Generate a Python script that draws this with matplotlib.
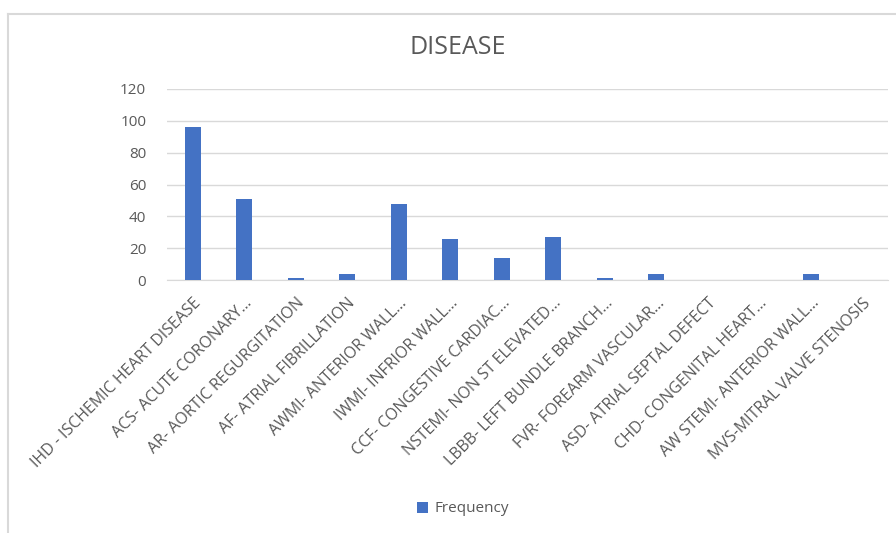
import numpy as np
import matplotlib
matplotlib.use("Agg")
import matplotlib.pyplot as plt
from matplotlib.lines import Line2D

# disease counts
diseases = [
    "IHD - ISCHEMIC HEART DISEASE",
    "ACS- ACUTE CORONARY\u2026",
    "AR- AORTIC REGURGITATION",
    "AF- ATRIAL FIBRILLATION",
    "AWMI- ANTERIOR WALL\u2026",
    "IWMI- INFRIOR WALL\u2026",
    "CCF- CONGESTIVE CARDIAC\u2026",
    "NSTEMI- NON ST ELEVATED\u2026",
    "LBBB- LEFT BUNDLE BRANCH\u2026",
    "FVR- FOREARM VASCULAR\u2026",
    "ASD- ATRIAL SEPTAL DEFECT",
    "CHD- CONGENITAL HEART\u2026",
    "AW STEMI- ANTERIOR WALL\u2026",
    "MVS-MITRAL VALVE STENOSIS",
]
frequency = [96, 51, 1, 4, 48, 26, 14, 27, 1, 4, 0, 0, 4, 0]
yticks = [0, 20, 40, 60, 80, 100, 120]

bar_color = "#4472C4"
grid_color = "#D9D9D9"
text_color = "#595959"

plt.rcParams["font.family"] = ["Open Sans", "DejaVu Sans"]

fig = plt.figure(figsize=(8.96, 5.33), dpi=100)
ax = fig.add_axes([167 / 896, 1 - 280 / 533, 721 / 896, 191 / 533])

x = np.arange(len(diseases))
ax.bar(x, frequency, width=0.305, color=bar_color, label="Frequency", zorder=3)

ax.set_xlim(-0.5, len(diseases) - 0.5)
ax.set_ylim(0, 120)
ax.set_yticks(yticks)
ax.yaxis.grid(True, color=grid_color, linewidth=1.0, zorder=0)
for s in ["top", "right", "left"]:
    ax.spines[s].set_visible(False)
ax.spines["bottom"].set_color(grid_color)
ax.tick_params(axis="both", length=0, colors=text_color, labelsize=11)
ax.tick_params(axis="y", pad=15)
ax.set_xticks(x)
ax.set_xticklabels(diseases, rotation=45, ha="right", rotation_mode="anchor",
                   fontsize=11.5, color=text_color)
ax.tick_params(axis="x", pad=11)

fig.text(458 / 896, 1 - 48 / 533, "DISEASE", ha="center", va="center",
         fontsize=18, color=text_color)

fig.legend(loc="center", bbox_to_anchor=(463 / 896, 1 - 509 / 533),
           frameon=False, fontsize=11, labelcolor=text_color,
           handlelength=0.7, handleheight=0.7, handletextpad=0.4)

# chart frame
fig.add_artist(Line2D([8 / 896, 8 / 896], [0, 1 - 14 / 533],
                      transform=fig.transFigure, color="#D9D9D9", linewidth=1.5))
fig.add_artist(Line2D([8 / 896, 1], [1 - 14 / 533, 1 - 14 / 533],
                      transform=fig.transFigure, color="#D9D9D9", linewidth=1.5))

fig.savefig("out.png", dpi=100, facecolor="white")
